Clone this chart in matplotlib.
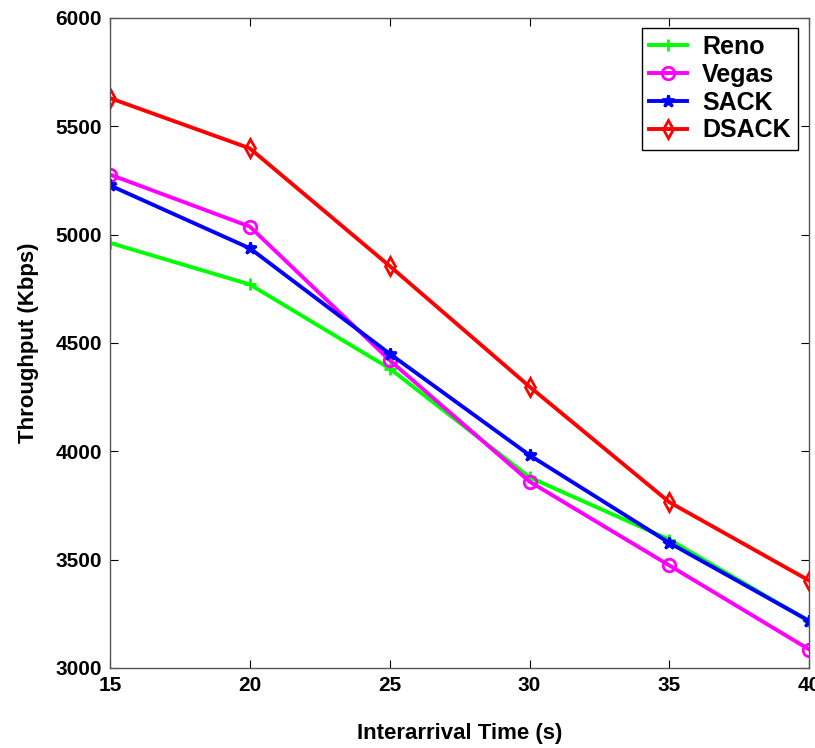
import matplotlib
matplotlib.use('Agg')
import matplotlib.pyplot as plt

# Interarrival time (s)
x_vals = [15, 20, 25, 30, 35, 40]

reno = [4962, 4770, 4382, 3880, 3592, 3215]
vegas = [5277, 5037, 4420, 3860, 3473, 3085]
sack = [5227, 4937, 4450, 3982, 3577, 3217]
dsack = [5630, 5398, 4855, 4298, 3765, 3403]

series_names = ['Reno', 'Vegas', 'SACK', 'DSACK']
series_colors = ['#00ff00', '#ff00ff', '#0000ff', '#ff0000']
series_markers = ['+', 'o', '*', 'd']

plt.rcParams['font.family'] = ['Liberation Sans', 'DejaVu Sans']
plt.rcParams['font.weight'] = 'bold'

fig = plt.figure(figsize=(8.15, 7.48), dpi=100)
ax = fig.add_axes([0.135, 0.107, 0.858, 0.869])

for vals, name, col, mk in zip([reno, vegas, sack, dsack], series_names, series_colors, series_markers):
    ax.plot(x_vals, vals, color=col, marker=mk, lw=2.8, markersize=9,
            markerfacecolor='none' if mk in ('o', 'd') else col,
            markeredgewidth=2, label=name)

ax.set_xlim(15, 40)
ax.set_ylim(3000, 6000)
ax.set_xticks(x_vals)
ax.set_yticks([3000, 3500, 4000, 4500, 5000, 5500, 6000])
ax.tick_params(direction='in', top=True, right=True, labelsize=15, length=6, pad=6)
for lab in ax.get_xticklabels() + ax.get_yticklabels():
    lab.set_fontweight('bold')
for sp in ax.spines.values():
    sp.set_color('#555555')
    sp.set_linewidth(1)

ax.set_xlabel('Interarrival Time (s)', fontsize=16, fontweight='bold', labelpad=20)
ax.set_ylabel('Throughput (Kbps)', fontsize=16, fontweight='bold', labelpad=12)

leg = ax.legend(loc='upper right',
                prop={'family': ['Liberation Sans Narrow', 'Liberation Sans'], 'size': 18, 'weight': 'bold'},
                fancybox=False, edgecolor='black', handlelength=1.5, handletextpad=0.6,
                borderpad=0.3, labelspacing=0.15, framealpha=1, borderaxespad=0,
                bbox_to_anchor=(0.984, 0.985))
leg.get_frame().set_linewidth(1)

fig.savefig('out.png', dpi=100)
